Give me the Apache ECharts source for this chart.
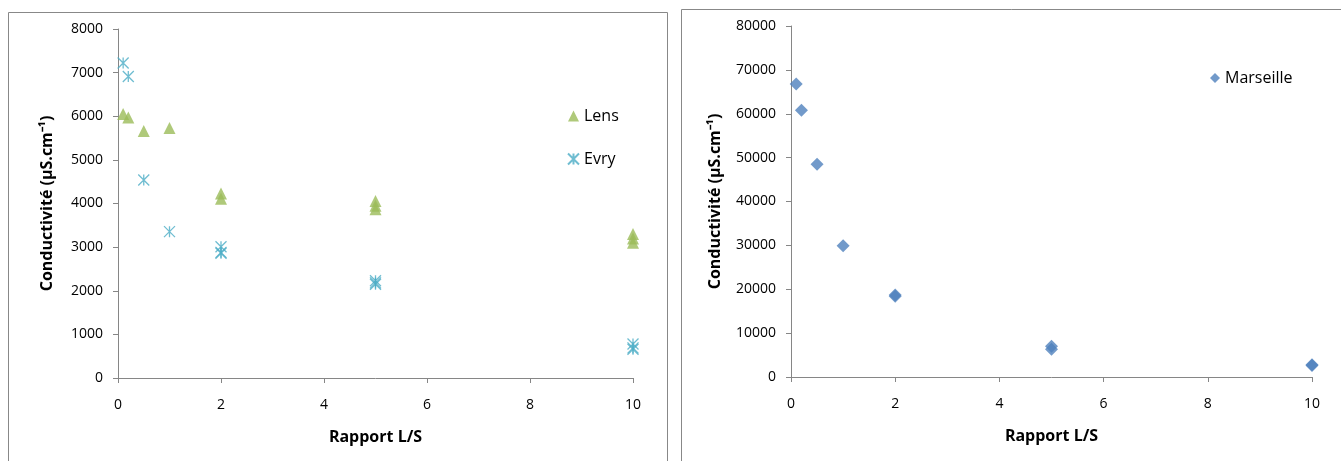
<!DOCTYPE html>
<html><head><meta charset="utf-8">
<script src="https://cdn.jsdelivr.net/npm/echarts@6/dist/echarts.min.js"></script>
<style>html,body{margin:0;padding:0;background:#fff}#c{width:1341px;height:461px}</style>
</head><body><div id="c"></div>
<script>
const xTicks = [0, 2, 4, 6, 8, 10];
const lensX = [0.1, 0.2, 0.5, 1, 2, 2, 5, 5, 5, 10, 10, 10];
const lensY = [6050, 5970, 5660, 5730, 4230, 4110, 4060, 3950, 3870, 3300, 3200, 3100];
const evryX = [0.1, 0.2, 0.5, 1, 2, 2, 2, 5, 5, 5, 10, 10, 10];
const evryY = [7220, 6910, 4540, 3355, 3010, 2880, 2860, 2230, 2180, 2150, 780, 690, 660];
const marsX = [0.1, 0.2, 0.5, 1, 2, 2, 5, 5, 10, 10];
const marsY = [66800, 60800, 48500, 29900, 18700, 18400, 7000, 6300, 2800, 2600];
const yName = 'Conductivité (µS.cm⁻¹)';
const xName = 'Rapport L/S';

const zip = (a, b) => a.map((v, i) => [v, b[i]]);
const font = '"Open Sans", sans-serif';
const axisLine = { lineStyle: { color: '#868686', width: 1 } };
function xAx(gi) {
  return { type: 'value', gridIndex: gi, min: 0, max: 10, interval: 2,
    name: xName, nameLocation: 'middle', nameGap: 51,
    nameTextStyle: { fontFamily: font, fontWeight: 'bold', fontSize: 16, color: '#000' },
    axisLine: axisLine, axisTick: { length: 5, lineStyle: { color: '#868686' } },
    axisLabel: { fontFamily: font, fontSize: 14, color: '#000', margin: 20, formatter: v => String(v) },
    splitLine: { show: false } };
}
function yAx(gi, max, interval, gap) {
  return { type: 'value', gridIndex: gi, min: 0, max: max, interval: interval,
    name: yName, nameLocation: 'middle', nameGap: gap,
    nameTextStyle: { fontFamily: font, fontWeight: 'bold', fontSize: 16, color: '#000' },
    axisLine: { show: true, lineStyle: { color: '#868686', width: 1 } },
    axisTick: { show: true, length: 5, lineStyle: { color: '#868686' } },
    axisLabel: { fontFamily: font, fontSize: 14, color: '#000', margin: 15, formatter: v => String(v) },
    splitLine: { show: false } };
}
const asterisk = 'path://M0,0L10,10M10,0L0,10M5,0L5,10';
const chart = echarts.init(document.getElementById('c'));
chart.setOption({
  animation: false,
  backgroundColor: '#fff',
  graphic: [
    { type: 'rect', shape: { x: 8.5, y: 12.5, width: 659, height: 470 }, style: { fill: 'none', stroke: '#888', lineWidth: 1 } },
    { type: 'rect', shape: { x: 681.5, y: 9.5, width: 670, height: 470 }, style: { fill: 'none', stroke: '#888', lineWidth: 1 } }
  ],
  grid: [
    { left: 118, right: 708, top: 29, bottom: 83 },
    { left: 791, right: 29, top: 26, bottom: 84 }
  ],
  legend: [
    { data: ['Lens', 'Evry'], orient: 'vertical', left: 562, top: 103, itemGap: 27,
      itemWidth: 11, itemHeight: 11, textStyle: { fontFamily: font, fontSize: 16, color: '#000' } },
    { data: ['Marseille'], orient: 'vertical', left: 1205, top: 65,
      itemWidth: 10, itemHeight: 10, textStyle: { fontFamily: font, fontSize: 16, color: '#000' } }
  ],
  xAxis: [xAx(0), xAx(1)],
  yAxis: [yAx(0, 8000, 1000, 63), yAx(1, 80000, 10000, 68)],
  series: [
    { name: 'Lens', type: 'scatter', xAxisIndex: 0, yAxisIndex: 0, symbol: 'triangle', symbolSize: 12,
      itemStyle: { color: '#9BBB59' }, data: zip(lensX, lensY) },
    { name: 'Evry', type: 'scatter', xAxisIndex: 0, yAxisIndex: 0, symbol: asterisk, symbolSize: 11,
      itemStyle: { color: 'rgba(0,0,0,0)', borderColor: '#4BACC6', borderWidth: 1.3 }, data: zip(evryX, evryY) },
    { name: 'Marseille', type: 'scatter', xAxisIndex: 1, yAxisIndex: 1, symbol: 'diamond', symbolSize: 13,
      itemStyle: { color: '#4F81BD' }, data: zip(marsX, marsY) }
  ]
});
</script></body></html>
